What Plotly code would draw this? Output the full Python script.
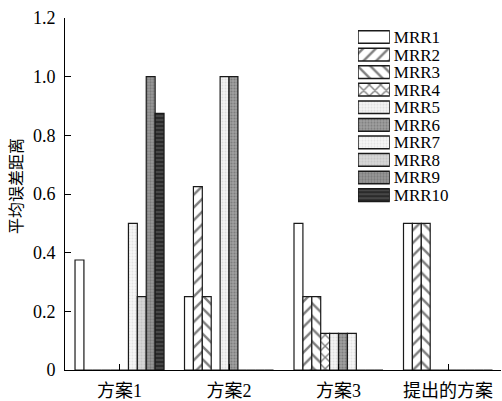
import plotly.graph_objects as go

# Schemes on the x axis and mean error distance per MRR variant
categories = ["方案1", "方案2", "方案3", "提出的方案"]
series_names = ["MRR1", "MRR2", "MRR3", "MRR4", "MRR5",
                "MRR6", "MRR7", "MRR8", "MRR9", "MRR10"]
mrr1 = [0.375, 0.25, 0.5, 0.5]
mrr2 = [0.0, 0.625, 0.25, 0.5]
mrr3 = [0.0, 0.25, 0.25, 0.5]
mrr4 = [0.0, 0.0, 0.125, 0.0]
mrr5 = [0.0, 1.0, 0.125, 0.0]
mrr6 = [0.0, 1.0, 0.125, 0.0]
mrr7 = [0.5, 0.0, 0.125, 0.0]
mrr8 = [0.25, 0.0, 0.0, 0.0]
mrr9 = [1.0, 0.0, 0.0, 0.0]
mrr10 = [0.875, 0.0, 0.0, 0.0]
series_values = [mrr1, mrr2, mrr3, mrr4, mrr5, mrr6, mrr7, mrr8, mrr9, mrr10]

y_ticks = [0, 0.2, 0.4, 0.6, 0.8, 1.0, 1.2]
y_tick_text = ["0", "0.2", "0.4", "0.6", "0.8", "1.0", "1.2"]

# Fill style per series: (pattern shape, fg colour, bg colour, size, solidity)
styles = [
    ("", "#000000", "#ffffff", 8, 0.2),
    ("/", "#000000", "#ffffff", 9, 0.27),
    ("\\", "#000000", "#ffffff", 9, 0.27),
    ("x", "#000000", "#ffffff", 8, 0.32),
    (".", "#c8c8c8", "#f4f4f4", 3, 0.35),
    (".", "#5a5a5a", "#a0a0a0", 3, 0.4),
    (".", "#d0d0d0", "#f6f6f6", 3, 0.35),
    (".", "#b0b0b0", "#d8d8d8", 3, 0.4),
    (".", "#5e5e5e", "#9a9a9a", 3, 0.45),
    ("-", "#7a7a7a", "#2a2a2a", 4, 0.35),
]

SERIF = "Liberation Serif, Noto Sans CJK SC, serif"
x_pos = list(range(len(categories)))

fig = go.Figure()

for name, vals, (shape, fg, bg, size, sol) in zip(series_names, series_values, styles):
    fig.add_trace(go.Bar(
        x=x_pos, y=vals, name=name, showlegend=False,
        marker=dict(
            color=bg,
            line=dict(color="#1a1a1a", width=1.2),
            pattern=dict(shape=shape, fgcolor=fg, bgcolor=bg, size=size,
                         solidity=sol, fillmode="overlay"),
        ),
    ))

# Hand-built key: one horizontal swatch per series on its own small axis
for name, (shape, fg, bg, size, sol) in zip(series_names, styles):
    fig.add_trace(go.Bar(
        x=[1], y=[name], orientation="h", xaxis="x2", yaxis="y2",
        width=0.72, offset=-0.36,
        showlegend=False, hoverinfo="skip",
        marker=dict(
            color=bg,
            line=dict(color="#1a1a1a", width=1.5),
            pattern=dict(shape=shape, fgcolor=fg, bgcolor=bg, size=size,
                         solidity=sol, fillmode="overlay"),
        ),
    ))

fig.update_layout(
    width=502, height=401,
    margin=dict(l=65, r=1, t=18, b=31),
    paper_bgcolor="white", plot_bgcolor="white",
    barmode="group", bargap=0.187, bargroupgap=0,
    font=dict(family=SERIF, size=18, color="black"),
    xaxis=dict(
        range=[-0.498, 3.484],
        tickvals=x_pos, ticktext=categories,
        ticks="inside", ticklen=6, tickwidth=1, tickcolor="black",
        showline=True, linecolor="black", linewidth=1,
        showgrid=False, zeroline=False,
        tickfont=dict(family=SERIF, size=18),
        ticklabelstandoff=4,
    ),
    yaxis=dict(
        range=[0, 1.2],
        tickvals=y_ticks, ticktext=y_tick_text,
        ticks="inside", ticklen=6, tickwidth=1, tickcolor="black",
        showline=True, linecolor="black", linewidth=1,
        showgrid=False, zeroline=False,
        tickfont=dict(family=SERIF, size=18),
        ticklabelstandoff=5,
    ),
    xaxis2=dict(
        domain=[0.672, 0.745], range=[0, 1], anchor="y2",
        visible=False, fixedrange=True,
    ),
    yaxis2=dict(
        domain=[0.472, 0.971], anchor="x2",
        categoryorder="array", categoryarray=series_names,
        tickmode="array", tickvals=series_names, ticktext=series_names,
        range=[9.5, -0.5], side="right",
        showline=False, showgrid=False, zeroline=False, ticks="",
        tickfont=dict(family=SERIF, size=17),
        ticklabelstandoff=3,
    ),
    annotations=[dict(
        text="平均误差距离", textangle=-90,
        xref="paper", yref="paper", x=-0.110, y=0.523,
        xanchor="center", yanchor="middle", showarrow=False,
        font=dict(family=SERIF, size=16),
    )],
)

fig.write_html("out.html")
